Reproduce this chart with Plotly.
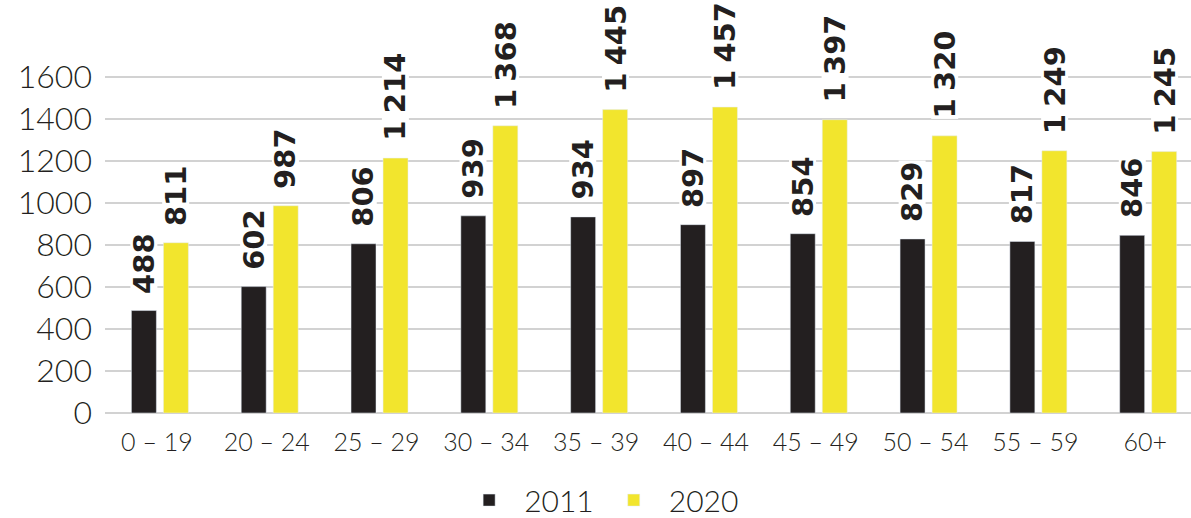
import plotly.graph_objects as go

age_groups = ["0 – 19", "20 – 24", "25 – 29", "30 – 34", "35 – 39",
              "40 – 44", "45 – 49", "50 – 54", "55 – 59", "60+"]
values_2011 = [488, 602, 806, 939, 934, 897, 854, 829, 817, 846]
values_2020 = [811, 987, 1214, 1368, 1445, 1457, 1397, 1320, 1249, 1245]
y_ticks = [0, 200, 400, 600, 800, 1000, 1200, 1400, 1600]

DARK = "#231f20"
YELLOW = "#f2e52d"
FONT = "Lato"
LABEL_FONT = "DejaVu Sans"


def fmt(v):
    # thousands separated by a narrow space, as in the source
    return f"{v:,}".replace(",", "\u2005")


fig = go.Figure()
fig.add_trace(go.Bar(x=age_groups, y=values_2011, name="2011", marker_color=DARK))
fig.add_trace(go.Bar(x=age_groups, y=values_2020, name="2020", marker_color=YELLOW))

# rotated value labels with a narrow white box so they break the grid lines
for series, shift in ((values_2011, -16), (values_2020, 16)):
    for cat, v in zip(age_groups, series):
        fig.add_annotation(
            x=cat, y=v, xshift=shift, yshift=16,
            text=fmt(v), textangle=-90, showarrow=False,
            yanchor="bottom", bgcolor="white", borderpad=0, height=26,
            font=dict(family=LABEL_FONT, size=29, color=DARK, weight="bold"),
        )

fig.update_layout(
    width=1191, height=518,
    margin=dict(l=105, r=0, t=4, b=105, autoexpand=False),
    plot_bgcolor="white", paper_bgcolor="white",
    barmode="group", bargap=0.417, bargroupgap=0.22,
    font=dict(family=FONT, color=DARK),
    legend=dict(
        orientation="h", x=0.455, xanchor="center",
        y=-0.213, yanchor="middle",
        font=dict(size=30, weight=300), itemwidth=60,
    ),
)
fig.update_xaxes(
    range=[-0.5, 9.39], showgrid=False, showline=False, automargin=False,
    tickfont=dict(size=25, weight=300), ticklabelshift=-3,
    ticklabelstandoff=12,
)
fig.update_yaxes(
    range=[0, 1948], tickvals=y_ticks, showgrid=True, automargin=False,
    gridcolor="#d2d2d2", gridwidth=2, zeroline=True,
    zerolinecolor="#d2d2d2", zerolinewidth=2,
    tickfont=dict(size=32, weight=300), ticklabelstandoff=12,
)

fig.write_html("out.html", config={"displayModeBar": False},
               post_script="document.body.style.margin='0';")
